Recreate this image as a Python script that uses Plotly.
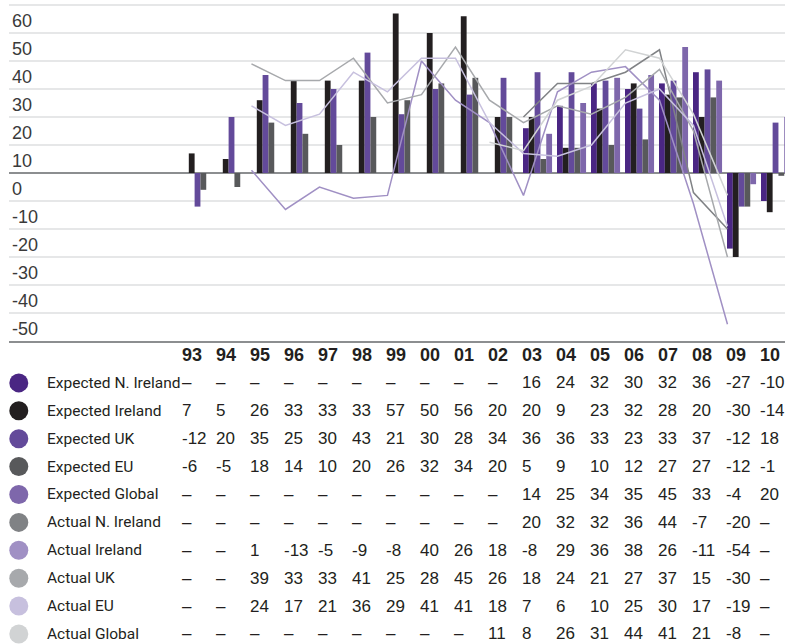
import plotly.graph_objects as go

# ---- data -------------------------------------------------------------
years = ["93", "94", "95", "96", "97", "98", "99", "00", "01",
         "02", "03", "04", "05", "06", "07", "08", "09", "10"]

exp_ni = [None] * 10 + [16, 24, 32, 30, 32, 36, -27, -10]
exp_ie = [7, 5, 26, 33, 33, 33, 57, 50, 56, 20, 20, 9, 23, 32, 28, 20, -30, -14]
exp_uk = [-12, 20, 35, 25, 30, 43, 21, 30, 28, 34, 36, 36, 33, 23, 33, 37, -12, 18]
exp_eu = [-6, -5, 18, 14, 10, 20, 26, 32, 34, 20, 5, 9, 10, 12, 27, 27, -12, -1]
exp_gl = [None] * 10 + [14, 25, 34, 35, 45, 33, -4, 20]

act_ni = [None] * 10 + [20, 32, 32, 36, 44, -7, -20, None]
act_ie = [None, None, 1, -13, -5, -9, -8, 40, 26, 18, -8, 29, 36, 38, 26, -11, -54, None]
act_uk = [None, None, 39, 33, 33, 41, 25, 28, 45, 26, 18, 24, 21, 27, 37, 15, -30, None]
act_eu = [None, None, 24, 17, 21, 36, 29, 41, 41, 18, 7, 6, 10, 25, 30, 17, -19, None]
act_gl = [None] * 9 + [11, 8, 26, 31, 44, 41, 21, -8, None]

series_names = ["Expected N. Ireland", "Expected Ireland", "Expected UK",
                "Expected EU", "Expected Global", "Actual N. Ireland",
                "Actual Ireland", "Actual UK", "Actual EU", "Actual Global"]
series_values = [exp_ni, exp_ie, exp_uk, exp_eu, exp_gl,
                 act_ni, act_ie, act_uk, act_eu, act_gl]
series_colors = ["#4a2683", "#231f20", "#634a9a", "#58595b", "#7e67ab",
                 "#808285", "#a090c4", "#a7a9ac", "#c7c0de", "#d1d3d4"]

y_ticks = [60, 50, 40, 30, 20, 10, 0, -10, -20, -30, -40, -50]

# ---- layout constants ----------------------------------------------------
W, H = 785, 644
PLOT_BOTTOM = 341          # pixel row of the chart's baseline axis
X_RANGE = [-5.441, 17.382]
BAR_W = 0.171
BAR_START = -0.324
LINE_SHIFT = -0.31
COL_LEFT = -0.41           # left edge of each table column
LABEL_X = -4.385
DOT_X = -5.153
TEXT_FONT = "Roboto, Liberation Sans, Arial, sans-serif"
NUM_FONT = "Liberation Sans, Arial, sans-serif"
INK = "#231f20"

xs = list(range(len(years)))
fig = go.Figure()

# expected values as grouped bars
for k in range(5):
    fig.add_trace(go.Bar(
        x=xs, y=series_values[k], name=series_names[k],
        marker=dict(color=series_colors[k], line=dict(width=0)),
        width=BAR_W, offset=BAR_START + k * BAR_W,
        hoverinfo="skip", showlegend=False,
    ))

# actual values as lines
for k in range(5, 10):
    fig.add_trace(go.Scatter(
        x=[x + LINE_SHIFT for x in xs], y=series_values[k], name=series_names[k],
        mode="lines", line=dict(color=series_colors[k], width=1.5),
        connectgaps=False, hoverinfo="skip", showlegend=False,
    ))

# ---- table underneath ---------------------------------------------------
row_y = [-(r + 1) for r in range(len(series_names))]
fig.add_trace(go.Scatter(
    x=[DOT_X] * len(series_names), y=row_y, xaxis="x", yaxis="y2",
    mode="markers", marker=dict(size=19, color=series_colors, line=dict(width=0)),
    cliponaxis=False, hoverinfo="skip", showlegend=False,
))

annotations = []
for i, yr in enumerate(years):
    annotations.append(dict(
        x=i + COL_LEFT, y=0, xref="x", yref="y2", text=f"<b>{yr}</b>",
        xanchor="left", yanchor="middle", showarrow=False,
        font=dict(family=NUM_FONT, size=18, color=INK),
    ))
for r, (name, vals) in enumerate(zip(series_names, series_values)):
    annotations.append(dict(
        x=LABEL_X, y=row_y[r], xref="x", yref="y2", text=name,
        xanchor="left", yanchor="middle", showarrow=False,
        font=dict(family=TEXT_FONT, size=15.5, color=INK),
    ))
    for i, v in enumerate(vals):
        annotations.append(dict(
            x=i + COL_LEFT, y=row_y[r], xref="x", yref="y2",
            text="–" if v is None else str(v),
            xanchor="left", yanchor="middle", showarrow=False,
            font=dict(family=NUM_FONT, size=17, color=INK),
        ))

# axis caption above the chart
annotations.append(dict(
    x=0, y=1, xref="paper", yref="paper", text="Percentage",
    xanchor="left", yanchor="bottom", yshift=-3, xshift=9, showarrow=False,
    font=dict(family=NUM_FONT, size=17, color=INK),
))

dom_split = 1 - PLOT_BOTTOM / H
fig.update_layout(
    width=W, height=H,
    margin=dict(l=9, r=0, t=0, b=0),
    paper_bgcolor="white", plot_bgcolor="white",
    barmode="overlay",
    xaxis=dict(range=X_RANGE, showticklabels=False, showgrid=False,
               zeroline=False, showline=True, linecolor="#8c8e90",
               linewidth=2, ticks="", fixedrange=True),
    yaxis=dict(domain=[dom_split, 1], range=[-60, 61.79],
               tickvals=y_ticks, ticktext=[str(t) for t in y_ticks],
               ticklabelposition="inside bottom", ticklabelshift=3,
               tickfont=dict(family=NUM_FONT, size=18, color="#3a3a3a"),
               showgrid=True, gridcolor="#e6e7e8", gridwidth=1.5,
               zeroline=True, zerolinecolor="#8c8e90", zerolinewidth=1.5,
               showline=False, ticks="", fixedrange=True),
    yaxis2=dict(domain=[0, dom_split], range=[-10.36, 0.502], anchor="x",
                visible=False, fixedrange=True),
    annotations=annotations,
)

fig.write_html("out.html")
